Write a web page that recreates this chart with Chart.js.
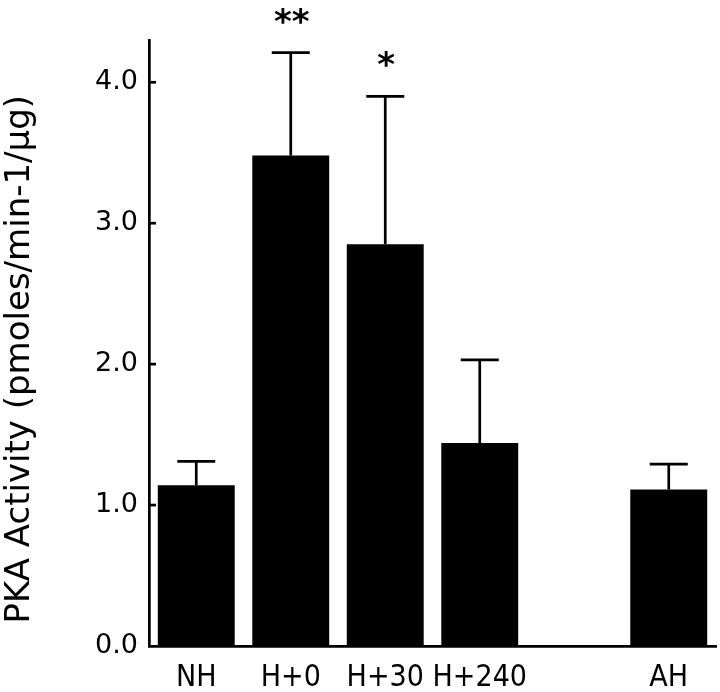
<!DOCTYPE html>
<html>
<head>
<meta charset="utf-8">
<script src="https://cdn.jsdelivr.net/npm/chart.js@4.4.1/dist/chart.umd.min.js"></script>
<style>
  body { margin: 0; background: #fff; }
  #wrap { width: 720px; height: 692px; }
</style>
</head>
<body>
<div id="wrap"><canvas id="chartPka"></canvas></div>
<script>
// ==================================================
// PKA ACTIVITY - BAR CHART WITH ERROR BARS
// ==================================================

// groups (the blank slot keeps the gap before AH)
const grupos = ['NH', 'H+0', 'H+30', 'H+240', '', 'AH'];
// mean PKA activity (pmoles/min-1/µg)
const atividade = [1.14, 3.48, 2.85, 1.44, null, 1.11];
// upper error (SD/SEM)
const erro = [0.17, 0.73, 1.05, 0.59, null, 0.18];
// significance marks above the error bars
const significancia = ['', '**', '*', '', '', ''];
// y tick values
const ticksY = [0, 1, 2, 3, 4];

const FONTE = 'DejaVu Sans';

/**
 * Draws the upper error bars and the significance stars
 */
const pluginErro = {
    id: 'barrasErro',
    afterDatasetsDraw(chart) {
        const ctx = chart.ctx;
        const escalaY = chart.scales.y;
        const meta = chart.getDatasetMeta(0);

        ctx.save();
        ctx.strokeStyle = '#000';
        ctx.fillStyle = '#000';
        ctx.lineWidth = 2.7;

        meta.data.forEach((barra, i) => {
            if (atividade[i] == null || erro[i] == null) {
                return;
            }
            const yBarra = escalaY.getPixelForValue(atividade[i]);
            const yTopo = escalaY.getPixelForValue(atividade[i] + erro[i]);

            ctx.beginPath();
            ctx.moveTo(barra.x, yBarra);
            ctx.lineTo(barra.x, yTopo);
            ctx.moveTo(barra.x - 19, yTopo);
            ctx.lineTo(barra.x + 19, yTopo);
            ctx.stroke();

            if (significancia[i]) {
                ctx.font = 'bold 34px ' + FONTE;
                ctx.textAlign = 'center';
                ctx.textBaseline = 'alphabetic';
                ctx.fillText(significancia[i], barra.x + 1, yTopo - 20);
            }
        });
        ctx.restore();
    }
};

/**
 * Small tick marks pointing into the plot on the y axis
 */
const pluginTicksInternos = {
    id: 'ticksInternos',
    afterDraw(chart) {
        const ctx = chart.ctx;
        const escalaY = chart.scales.y;
        const esquerda = chart.chartArea.left;

        ctx.save();
        ctx.strokeStyle = '#000';
        ctx.lineWidth = 2.7;
        escalaY.ticks.forEach(t => {
            if (t.value === 0) {
                return;
            }
            const y = escalaY.getPixelForValue(t.value);
            ctx.beginPath();
            ctx.moveTo(esquerda, y);
            ctx.lineTo(esquerda + 7, y);
            ctx.stroke();
        });
        ctx.restore();
    }
};

const ctx = document.getElementById('chartPka').getContext('2d');

new Chart(ctx, {
    type: 'bar',
    data: {
        labels: grupos,
        datasets: [
            {
                label: 'PKA Activity',
                data: atividade,
                backgroundColor: '#000',
                borderWidth: 0,
                barPercentage: 0.814,
                categoryPercentage: 1.0
            }
        ]
    },
    options: {
        responsive: true,
        maintainAspectRatio: false,
        animation: false,
        layout: {
            padding: { top: 40, right: 4, left: 0, bottom: 0 }
        },
        plugins: {
            legend: { display: false },
            tooltip: { enabled: false }
        },
        scales: {
            x: {
                grid: { display: false, drawTicks: false },
                border: { display: true, color: '#000', width: 2.7 },
                ticks: {
                    color: '#000',
                    font: { family: 'DejaVu Sans Condensed', size: 30 },
                    padding: 14,
                    maxRotation: 0,
                    autoSkip: false
                },
                afterFit: function(scale) {
                    scale.height = 46;
                }
            },
            y: {
                min: 0,
                max: 4.3,
                grid: { display: false, drawTicks: false },
                border: { display: true, color: '#000', width: 2.7 },
                afterBuildTicks: function(scale) {
                    scale.ticks = ticksY.map(v => ({ value: v }));
                },
                ticks: {
                    color: '#000',
                    font: { family: FONTE, size: 27 },
                    padding: 11,
                    callback: function(value) {
                        return Number(value).toFixed(1);
                    }
                },
                title: {
                    display: true,
                    // trailing spaces push the visible text a little lower, as in the original
                    text: 'PKA Activity (pmoles/min-1/µg)   ',
                    color: '#000',
                    font: { family: FONTE, size: 34 },
                    padding: { top: 0, bottom: 0 }
                },
                afterFit: function(scale) {
                    scale.width = 149;
                }
            }
        }
    },
    plugins: [pluginErro, pluginTicksInternos]
});
</script>
</body>
</html>
